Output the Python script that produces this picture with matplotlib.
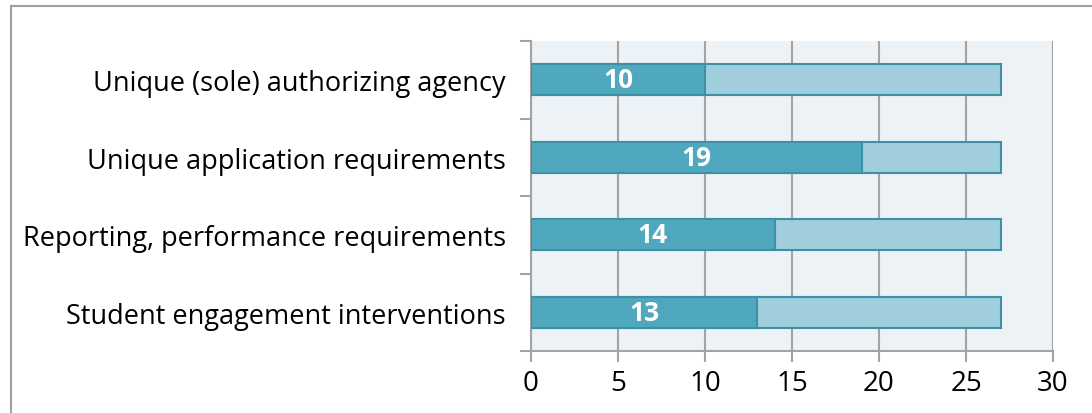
import matplotlib
matplotlib.use("Agg")
import matplotlib.pyplot as plt
from matplotlib.lines import Line2D

categories = ["Unique (sole) authorizing agency",
              "Unique application requirements",
              "Reporting, performance requirements",
              "Student engagement interventions"]
values = [10, 19, 14, 13]
total = 27
xticks = [0, 5, 10, 15, 20, 25, 30]

dark = "#50A8BF"
light = "#A0CEDD"
edge = "#3D91A4"
bg = "#EDF2F6"
grid = "#A3A3A3"

plt.rcParams['font.family'] = ['Open Sans', 'DejaVu Sans']

fig = plt.figure(figsize=(10.92, 4.14), dpi=100)
ax = fig.add_axes([531/1092, (414-352)/414, (1053-531)/1092, (352-42)/414])
ax.set_facecolor(bg)

y = list(range(len(categories)))
ax.barh(y, [total]*len(y), height=0.4, color=light, edgecolor=edge, linewidth=1.5, zorder=2)
ax.barh(y, values, height=0.4, color=dark, edgecolor=edge, linewidth=1.5, zorder=3)
for yi, v in zip(y, values):
    ax.text(v/2, yi, str(v), ha='center', va='center', color='white',
            fontsize=19, fontweight='bold', zorder=4)

ax.set_xlim(0, 30)
ax.set_ylim(len(categories)-0.5, -0.5)
ax.set_xticks(xticks)
ax.set_xticklabels([str(t) for t in xticks], fontsize=20)
ax.set_yticks(y)
ax.set_yticklabels(categories, fontsize=19.5)
ax.set_yticks([i - 0.5 for i in range(len(categories))] + [len(categories)-0.5], minor=True)
ax.tick_params(axis='y', which='major', length=0, pad=18)
ax.tick_params(axis='y', which='minor', length=8, width=1.5, color=grid)
ax.tick_params(axis='x', length=8, width=1.5, color=grid, pad=5)
ax.xaxis.grid(True, color=grid, linewidth=1.5, zorder=1)
ax.set_axisbelow(True)
for s in ['top', 'right']:
    ax.spines[s].set_visible(False)
for s in ['left', 'bottom']:
    ax.spines[s].set_color(grid)
    ax.spines[s].set_linewidth(1.5)

# outer frame (left and top)
fig.add_artist(Line2D([11/1092, 11/1092], [0, 1-7/414], transform=fig.transFigure, color='#A0A0A0', linewidth=1.5))
fig.add_artist(Line2D([11/1092, 1], [1-7/414, 1-7/414], transform=fig.transFigure, color='#A0A0A0', linewidth=1.5))

fig.savefig("out.png", dpi=100)
